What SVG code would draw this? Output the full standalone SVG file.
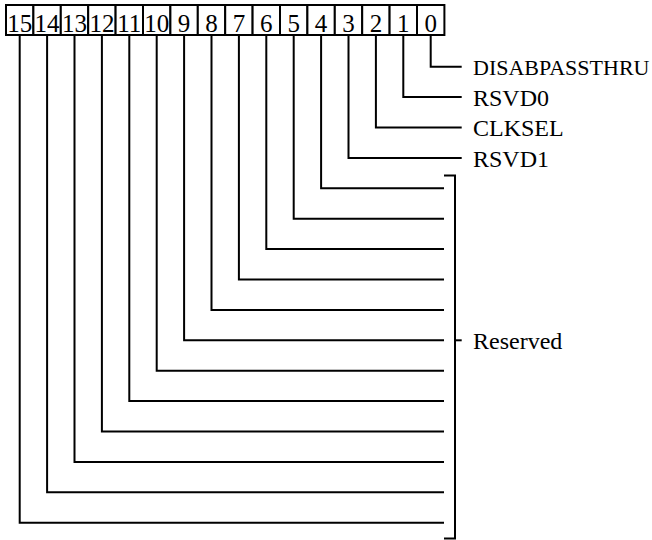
<svg xmlns="http://www.w3.org/2000/svg" width="652" height="540" viewBox="0 0 652 540">
  <style>
    .box { fill: #ffffff; stroke: #000000; stroke-width: 2; }
    .num { font-family: "Liberation Serif", "Times New Roman", serif; font-size: 25px; fill: #000000; text-anchor: middle; }
    .lbl { font-family: "Liberation Serif", "Times New Roman", serif; font-size: 24px; fill: #000000; }
    .lbl.long { font-size: 22px; }
    .wire { fill: none; stroke: #000000; stroke-width: 2; }
  </style>
  <rect x="0" y="0" width="652" height="540" fill="#ffffff"/>

  <!-- register bit cells, bit 15 on the left -->
  <g id="register">
    <g id="bit15"><rect class="box" x="6" y="5" width="27.4" height="30"/><text class="num" x="19.7" y="31.5">15</text></g>
    <g id="bit14"><rect class="box" x="33.4" y="5" width="27.4" height="30"/><text class="num" x="47.1" y="31.5">14</text></g>
    <g id="bit13"><rect class="box" x="60.8" y="5" width="27.4" height="30"/><text class="num" x="74.5" y="31.5">13</text></g>
    <g id="bit12"><rect class="box" x="88.2" y="5" width="27.4" height="30"/><text class="num" x="101.9" y="31.5">12</text></g>
    <g id="bit11"><rect class="box" x="115.6" y="5" width="27.4" height="30"/><text class="num" x="129.3" y="31.5">11</text></g>
    <g id="bit10"><rect class="box" x="143" y="5" width="27.4" height="30"/><text class="num" x="156.7" y="31.5">10</text></g>
    <g id="bit9"><rect class="box" x="170.4" y="5" width="27.4" height="30"/><text class="num" x="184.1" y="31.5">9</text></g>
    <g id="bit8"><rect class="box" x="197.8" y="5" width="27.4" height="30"/><text class="num" x="211.5" y="31.5">8</text></g>
    <g id="bit7"><rect class="box" x="225.2" y="5" width="27.4" height="30"/><text class="num" x="238.9" y="31.5">7</text></g>
    <g id="bit6"><rect class="box" x="252.6" y="5" width="27.4" height="30"/><text class="num" x="266.3" y="31.5">6</text></g>
    <g id="bit5"><rect class="box" x="280" y="5" width="27.4" height="30"/><text class="num" x="293.7" y="31.5">5</text></g>
    <g id="bit4"><rect class="box" x="307.4" y="5" width="27.4" height="30"/><text class="num" x="321.1" y="31.5">4</text></g>
    <g id="bit3"><rect class="box" x="334.8" y="5" width="27.4" height="30"/><text class="num" x="348.5" y="31.5">3</text></g>
    <g id="bit2"><rect class="box" x="362.2" y="5" width="27.4" height="30"/><text class="num" x="375.9" y="31.5">2</text></g>
    <g id="bit1"><rect class="box" x="389.6" y="5" width="27.4" height="30"/><text class="num" x="403.3" y="31.5">1</text></g>
    <g id="bit0"><rect class="box" x="417" y="5" width="27.4" height="30"/><text class="num" x="430.7" y="31.5">0</text></g>
  </g>

  <!-- leader lines from each cell -->
  <g id="connectors">
    <path class="wire" d="M430.7 36 V66.7 H461.7"/>
    <path class="wire" d="M403.3 36 V97.1 H461.7"/>
    <path class="wire" d="M375.9 36 V127.5 H461.7"/>
    <path class="wire" d="M348.5 36 V157.9 H461.7"/>
    <path class="wire" d="M321.1 36 V188.3 H444"/>
    <path class="wire" d="M293.7 36 V218.7 H444"/>
    <path class="wire" d="M266.3 36 V249.1 H444"/>
    <path class="wire" d="M238.9 36 V279.5 H444"/>
    <path class="wire" d="M211.5 36 V309.9 H444"/>
    <path class="wire" d="M184.1 36 V340.3 H444"/>
    <path class="wire" d="M156.7 36 V370.7 H444"/>
    <path class="wire" d="M129.3 36 V401.1 H444"/>
    <path class="wire" d="M101.9 36 V431.5 H444"/>
    <path class="wire" d="M74.5 36 V461.9 H444"/>
    <path class="wire" d="M47.1 36 V492.3 H444"/>
    <path class="wire" d="M19.7 36 V522.7 H444"/>
    <!-- bracket grouping bits 4..15 -->
    <path class="wire" d="M444 175.5 H455 V538.5 H444"/>
    <path class="wire" d="M455 340.3 H461.7"/>
  </g>

  <!-- field names -->
  <g id="labels">
    <g id="label-disabpassthru"><text class="lbl long" x="473" y="75">DISABPASSTHRU</text></g>
    <g id="label-rsvd0"><text class="lbl" x="473" y="106">RSVD0</text></g>
    <g id="label-clksel"><text class="lbl" x="473" y="136">CLKSEL</text></g>
    <g id="label-rsvd1"><text class="lbl" x="473" y="166.5">RSVD1</text></g>
    <g id="label-reserved"><text class="lbl" x="473" y="348.5">Reserved</text></g>
  </g>
</svg>
